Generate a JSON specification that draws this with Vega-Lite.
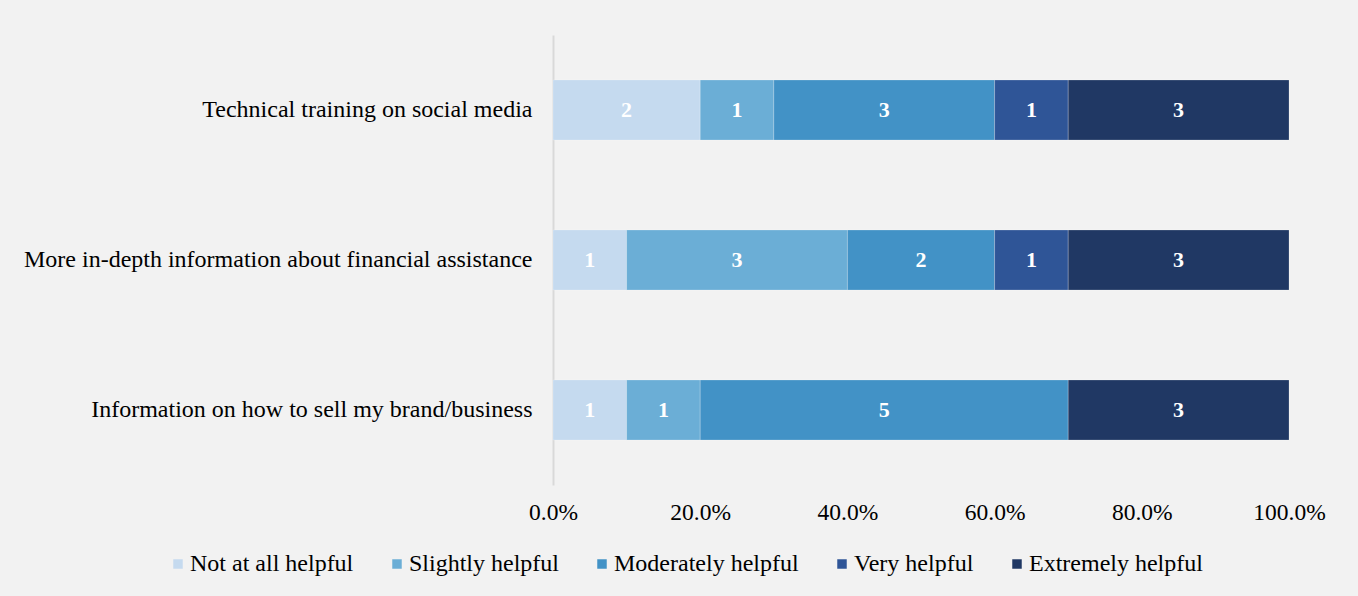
{
  "$schema": "https://vega.github.io/schema/vega-lite/v6.json",
  "autosize": "none",
  "width": 736,
  "height": 450,
  "padding": {"left": 553, "top": 35, "right": 69, "bottom": 111},
  "background": "#f2f2f2",
  "config": {
    "view": {"stroke": null},
    "font": "Liberation Serif"
  },
  "data": {
    "values": [
      {"item": "Technical training on social media", "response": "Not at all helpful", "level": 1, "count": 2},
      {"item": "Technical training on social media", "response": "Slightly helpful", "level": 2, "count": 1},
      {"item": "Technical training on social media", "response": "Moderately helpful", "level": 3, "count": 3},
      {"item": "Technical training on social media", "response": "Very helpful", "level": 4, "count": 1},
      {"item": "Technical training on social media", "response": "Extremely helpful", "level": 5, "count": 3},
      {"item": "More in-depth information about financial assistance", "response": "Not at all helpful", "level": 1, "count": 1},
      {"item": "More in-depth information about financial assistance", "response": "Slightly helpful", "level": 2, "count": 3},
      {"item": "More in-depth information about financial assistance", "response": "Moderately helpful", "level": 3, "count": 2},
      {"item": "More in-depth information about financial assistance", "response": "Very helpful", "level": 4, "count": 1},
      {"item": "More in-depth information about financial assistance", "response": "Extremely helpful", "level": 5, "count": 3},
      {"item": "Information on how to sell my brand/business", "response": "Not at all helpful", "level": 1, "count": 1},
      {"item": "Information on how to sell my brand/business", "response": "Slightly helpful", "level": 2, "count": 1},
      {"item": "Information on how to sell my brand/business", "response": "Moderately helpful", "level": 3, "count": 5},
      {"item": "Information on how to sell my brand/business", "response": "Extremely helpful", "level": 5, "count": 3}
    ]
  },
  "transform": [
    {"stack": "count", "groupby": ["item"], "sort": [{"field": "level", "order": "ascending"}], "offset": "normalize", "as": ["x0", "x1"]},
    {"calculate": "(datum.x0 + datum.x1) / 2", "as": "xmid"}
  ],
  "encoding": {
    "y": {
      "field": "item",
      "type": "nominal",
      "sort": ["Technical training on social media", "More in-depth information about financial assistance", "Information on how to sell my brand/business"],
      "scale": {"paddingInner": 0.6, "paddingOuter": 0.3},
      "axis": {
        "title": null,
        "ticks": false,
        "domainColor": "#d9d9d9",
        "domainWidth": 2,
        "labelFont": "Liberation Serif",
        "labelFontSize": 24,
        "labelColor": "#000000",
        "labelPadding": 21,
        "labelLimit": 600
      }
    }
  },
  "layer": [
    {
      "mark": {"type": "bar", "stroke": "#ffffff", "strokeWidth": 0.6, "strokeOpacity": 0.35},
      "encoding": {
        "x": {
          "field": "x0",
          "type": "quantitative",
          "scale": {"domain": [0, 1], "nice": false},
          "axis": {
            "title": null,
            "format": ".1%",
            "values": [0, 0.2, 0.4, 0.6, 0.8, 1],
            "grid": false,
            "domain": false,
            "ticks": false,
            "labelFont": "Liberation Serif",
            "labelFontSize": 23.5,
            "labelColor": "#000000",
            "labelPadding": 15,
            "labelFlush": false
          }
        },
        "x2": {"field": "x1"},
        "color": {
          "field": "response",
          "type": "nominal",
          "sort": ["Not at all helpful", "Slightly helpful", "Moderately helpful", "Very helpful", "Extremely helpful"],
          "scale": {
            "domain": ["Not at all helpful", "Slightly helpful", "Moderately helpful", "Very helpful", "Extremely helpful"],
            "range": ["#c5daef", "#6baed6", "#4292c6", "#2f5597", "#203864"]
          },
          "legend": {
            "title": null,
            "orient": "none",
            "direction": "horizontal",
            "legendX": -387,
            "legendY": 517,
            "padding": 0,
            "symbolType": "square",
            "symbolSize": 90,
            "symbolStrokeWidth": 0,
            "labelFont": "Liberation Serif",
            "labelFontSize": 24,
            "labelColor": "#000000",
            "labelOffset": 0,
            "columnPadding": 31,
            "labelLimit": 400
          }
        }
      }
    },
    {
      "mark": {"type": "text", "color": "#ffffff", "fontWeight": "bold", "font": "Liberation Serif", "fontSize": 22, "baseline": "middle", "align": "center"},
      "encoding": {
        "x": {"field": "xmid", "type": "quantitative"},
        "text": {"field": "count", "type": "quantitative"}
      }
    }
  ]
}
